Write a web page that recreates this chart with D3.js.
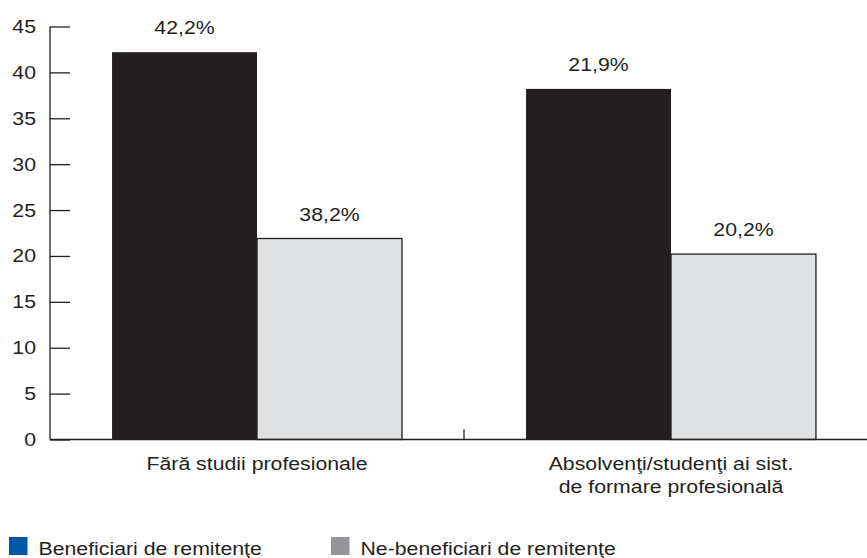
<!DOCTYPE html>
<html>
<head>
<meta charset="utf-8">
<script src="https://cdn.jsdelivr.net/npm/d3@7"></script>
<style>
  body { margin: 0; background: #fff; }
  text { font-family: "Liberation Sans", Arial, sans-serif; fill: #231f20; font-size: 18.5px; }
</style>
</head>
<body>
<div id="vis"></div>
<script>
var width = 867;
var height = 558;

// data
var categories = ["Fără studii profesionale", "Absolvenţi/studenţi ai sist.|de formare profesională"];
var series = ["Beneficiari de remitenţe", "Ne-beneficiari de remitenţe"];
var beneficiari = [42.2, 38.2];
var neBeneficiari = [21.9, 20.2];
var barLabels = [["42,2%", "38,2%"], ["21,9%", "20,2%"]];
var yTicks = [0, 5, 10, 15, 20, 25, 30, 35, 40, 45];

var barFill = ["#231f20", "#e0e1e3"];
var legendFill = ["#0057a8", "#939598"];

var margin = { left: 50, top: 26.5, bottom: 118.5 };
var plotRight = 878;
var stretch = 1.15; // the type in the picture is a bit wider than it is tall

// put a text at x,y, widened a little around its anchor
function place(sel, fx, fy) {
  sel.attr("transform", function(d, i) {
    return "translate(" + fx(d, i) + "," + fy(d, i) + ") scale(" + stretch + ",1)";
  });
}

var svg = d3.select("#vis").append("svg")
  .attr("width", width)
  .attr("height", height);

var y = d3.scaleLinear()
  .domain([0, 45])
  .range([height - margin.bottom, margin.top]);

var x0 = d3.scaleBand()
  .domain(categories)
  .range([margin.left, plotRight])
  .paddingInner(0)
  .paddingOuter(0);

var x1 = d3.scaleBand()
  .domain([0, 1])
  .range([0, x0.bandwidth()])
  .paddingOuter(0.428)
  .paddingInner(0);

var rows = categories.map(function(c, i) {
  return { cat: c, values: [beneficiari[i], neBeneficiari[i]], labels: [barLabels[i][0], barLabels[i][1]] };
});

// bars
var groups = svg.selectAll(".group")
  .data(rows)
  .enter().append("g")
  .attr("class", "group")
  .attr("transform", function(d) { return "translate(" + x0(d.cat) + ",0)"; });

groups.selectAll("rect")
  .data(function(d) { return d.values.map(function(v, j) { return { j: j, v: v }; }); })
  .enter().append("rect")
  .attr("x", function(d) { return x1(d.j); })
  .attr("y", function(d) { return y(d.v); })
  .attr("width", x1.bandwidth())
  .attr("height", function(d) { return y(0) - y(d.v); })
  .attr("fill", function(d) { return barFill[d.j]; })
  .attr("stroke", function(d) { return d.j === 1 ? "#231f20" : "none"; })
  .attr("stroke-width", 1.3);

groups.selectAll(".lbl")
  .data(function(d) { return d.values.map(function(v, j) { return { j: j, v: v, t: d.labels[j] }; }); })
  .enter().append("text")
  .attr("class", "lbl")
  .attr("text-anchor", "middle")
  .text(function(d) { return d.t; })
  .call(place,
    function(d) { return x1(d.j) + x1.bandwidth() / 2; },
    function(d) { return y(d.v) - 18; });

// y axis
var yAxis = svg.append("g")
  .attr("transform", "translate(" + margin.left + ",0)")
  .call(d3.axisRight(y).tickValues(yTicks).tickSize(20).tickFormat(""));
yAxis.select(".domain").attr("stroke", "#231f20").attr("stroke-width", 1.3).attr("d", "M0," + y(45) + "V" + y(0));
yAxis.selectAll(".tick line").attr("stroke", "#231f20").attr("stroke-width", 1.3);

svg.selectAll(".ylbl")
  .data(yTicks)
  .enter().append("text")
  .attr("class", "ylbl")
  .attr("text-anchor", "end")
  .text(function(d) { return d; })
  .call(place,
    function() { return 36; },
    function(d) { return y(d) + 6.5; });

// x axis
var xAxis = svg.append("g")
  .attr("transform", "translate(0," + y(0) + ")")
  .call(d3.axisTop(x0).tickSize(0).tickFormat(""));
xAxis.select(".domain").attr("stroke", "#231f20").attr("stroke-width", 1.3)
  .attr("d", "M" + margin.left + ",0H" + plotRight);
xAxis.selectAll(".tick").remove();

xAxis.selectAll(".sep")
  .data(categories.slice(1))
  .enter().append("line")
  .attr("class", "sep")
  .attr("x1", function(d) { return x0(d); })
  .attr("x2", function(d) { return x0(d); })
  .attr("y1", 0)
  .attr("y2", -10)
  .attr("stroke", "#231f20")
  .attr("stroke-width", 1.3);

var xLines = [];
categories.forEach(function(c) {
  c.split("|").forEach(function(t, k) { xLines.push({ cat: c, t: t, k: k }); });
});

svg.selectAll(".xlbl")
  .data(xLines)
  .enter().append("text")
  .attr("class", "xlbl")
  .attr("text-anchor", "middle")
  .text(function(d) { return d.t; })
  .call(place,
    function(d) { return x0(d.cat) + x0.bandwidth() / 2; },
    function(d) { return y(0) + 30 + d.k * 23.5; });

// legend
var legend = svg.selectAll(".leg")
  .data(series)
  .enter().append("g")
  .attr("class", "leg")
  .attr("transform", function(d, i) { return "translate(" + (9 + i * 322) + ",537)"; });

legend.append("rect")
  .attr("width", 18.5)
  .attr("height", 18)
  .attr("fill", function(d, i) { return legendFill[i]; });

legend.append("text")
  .text(function(d) { return d; })
  .call(place,
    function() { return 29.5; },
    function() { return 17.5; });
</script>
</body>
</html>
